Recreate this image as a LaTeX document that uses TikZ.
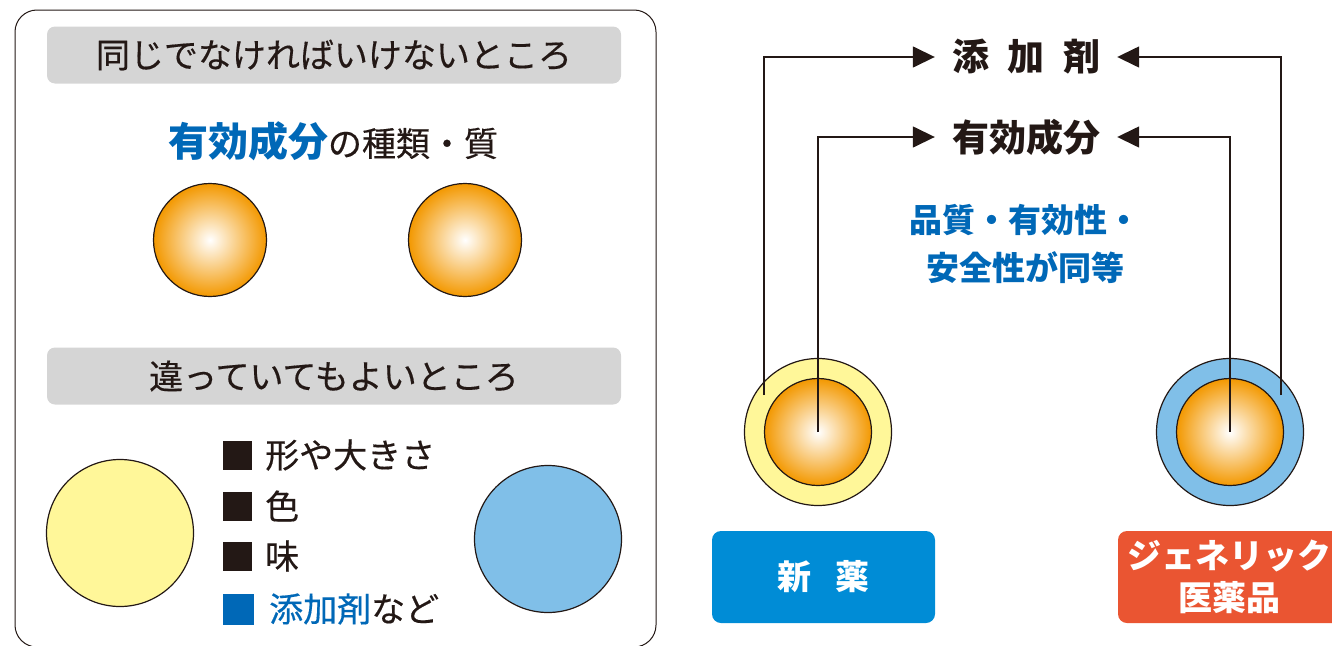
\documentclass[tikz,border=0pt]{standalone}
\usepackage{fontspec}
\newfontfamily\jp{Noto Sans CJK JP}
\newfontfamily\jpm[FakeBold=0.4]{Noto Sans CJK JP}
\usetikzlibrary{arrows.meta}
\definecolor{ink}{HTML}{231815}
\definecolor{orng}{HTML}{F39800}
\definecolor{ylw}{HTML}{FFF799}
\definecolor{lblue}{HTML}{80BFE8}
\definecolor{tblue}{HTML}{0068B7}
\definecolor{boxblue}{HTML}{008CD6}
\definecolor{boxred}{HTML}{EA5532}
\definecolor{hgray}{HTML}{D5D5D5}
\tikzset{
  ball/.style={circle, draw=ink, line width=1.2pt, inner sep=0pt, minimum size=#1, inner color=white, outer color=orng},
  ring/.style={circle, draw=ink, line width=1.2pt, inner sep=0pt, minimum size=147pt},
  hdr/.style={fill=hgray, rounded corners=8pt, minimum width=574pt, minimum height=57pt, text=ink, font=\jpm\fontsize{34}{40}\selectfont},
  sq/.style={fill=#1, inner sep=0pt, minimum size=29pt},
  item/.style={anchor=west, inner sep=0pt, text=ink, font=\jpm\fontsize{34}{40}\selectfont},
  lbl/.style={inner xsep=17pt, inner ysep=0pt, text=ink, font=\jp\bfseries\fontsize{37}{40}\selectfont},
  btxt/.style={inner sep=0pt, text=tblue, font=\jp\bfseries\fontsize{33}{40}\selectfont},
  arr/.style={draw=ink, line width=1.5pt, -{Triangle[length=22pt,width=21pt]}},
  namebox/.style={rounded corners=9pt, minimum width=223pt, minimum height=92pt, text=white, align=center, inner sep=0pt, font=\jp\bfseries\fontsize{34}{42}\selectfont}
}
\begin{document}
\begin{tikzpicture}[x=1pt,y=-1pt]
\useasboundingbox (0,0) rectangle (1332,645);
% left panel
\draw[ink, line width=1pt, rounded corners=22pt] (15,10) rectangle (656,647);
\node[hdr] (h1) at (334,55) {同じでなければいけないところ};
\node[inner sep=0pt, text=ink, font=\jpm\fontsize{34}{40}\selectfont] (q) at (333,141) {{\jp\color{tblue}\bfseries\fontsize{40}{44}\selectfont 有効成分}の種類・質};
\node[ball=113pt] (b1) at (210,240) {};
\node[ball=113pt] (b2) at (465,240) {};
\node[hdr] (h2) at (334,376) {違っていてもよいところ};
\node[ring, fill=ylw] (y1) at (120,533) {};
\node[ring, fill=lblue] (bl1) at (548,539) {};
\node[sq=ink] (s1) at (237,455) {};
\node[sq=ink] (s2) at (237,506) {};
\node[sq=ink] (s3) at (237,556) {};
\node[sq=tblue, minimum size=31pt] (s4) at (238,609) {};
\node[item] (l1) at (265,455) {形や大きさ};
\node[item] (l2) at (265,506) {色};
\node[item] (l3) at (265,556) {味};
\node[item] (l4) at (269,609) {{\color{tblue}添加剤}など};
% right part
\node[ring, fill=ylw] (nr) at (818,432) {};
\node[ball=107pt] (nb) at (818,432) {};
\node[ring, fill=lblue] (gr) at (1230,432) {};
\node[ball=107pt] (gb) at (1230,432) {};
\node[lbl] (t1) at (1026,57) {添\hspace{0.5em}加\hspace{0.5em}剤};
\node[lbl] (t2) at (1026,137) {有効成分};
\coordinate (o1) at (764,395);
\coordinate (o2) at (1281,395);
\draw[arr] (o1) |- (t1.west);
\draw[arr] (o2) |- (t1.east);
\draw[arr] (nb.center) |- (t2.west);
\draw[arr] (gb.center) |- (t2.east);
\node[btxt] (m1) at (1025,220) {品質・有効性・};
\node[btxt] (m2) at (1025,268) {安全性が同等};
\node[namebox, fill=boxblue] (nbox) at (823.5,577) {新\hspace{0.7em}薬};
\node[namebox, fill=boxred] (gbox) at (1229.5,577) {ジェネリック\\医薬品};
\end{tikzpicture}
\end{document}
